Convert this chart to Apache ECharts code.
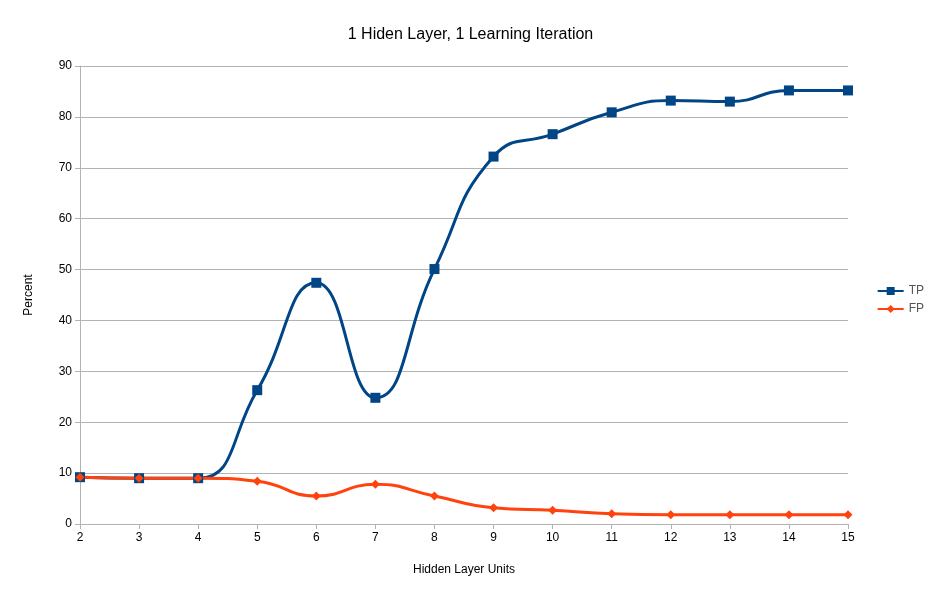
<!DOCTYPE html>
<html><head><meta charset="utf-8">
<script src="https://cdn.jsdelivr.net/npm/echarts@6/dist/echarts.min.js"></script>
<style>html,body{margin:0;background:#fff}#chart{width:941px;height:597px}</style>
</head><body><div id="chart"></div>
<script>
const units = ['2','3','4','5','6','7','8','9','10','11','12','13','14','15'];
const tp = [9.2, 9, 9, 26.3, 47.4, 24.8, 50.1, 72.2, 76.6, 80.9, 83.2, 83, 85.2, 85.2];
const fp = [9.2, 9, 9, 8.4, 5.5, 7.8, 5.5, 3.2, 2.7, 2, 1.8, 1.8, 1.8, 1.8];

const myChart = echarts.init(document.getElementById('chart'));
myChart.setOption({
  animation: false,
  textStyle: { fontFamily: 'Liberation Sans', color: '#000' },
  title: { text: '1 Hiden Layer, 1 Learning Iteration', left: 'center', top: 22,
    textStyle: { fontSize: 16, fontWeight: 'normal', color: '#000' } },
  grid: { left: 80, right: 93, top: 66, bottom: 73 },
  legend: { orient: 'vertical', right: 12, top: 280, itemGap: 6, itemWidth: 26, itemHeight: 10,
    textStyle: { fontSize: 12 }, data: ['TP', 'FP'] },
  xAxis: { type: 'category', data: units, boundaryGap: false,
    name: 'Hidden Layer Units', nameLocation: 'middle', nameGap: 40, nameTextStyle: { fontSize: 12 },
    axisLine: { lineStyle: { color: '#b3b3b3' } }, axisTick: { show: true, lineStyle: { color: '#b3b3b3' } },
    axisLabel: { color: '#000', fontSize: 12 },
    splitLine: { show: false } },
  yAxis: { type: 'value', min: 0, max: 90, interval: 10,
    name: 'Percent', nameLocation: 'middle', nameGap: 45, nameTextStyle: { fontSize: 12 },
    axisLine: { show: true, lineStyle: { color: '#b3b3b3' } }, axisTick: { show: true, lineStyle: { color: '#b3b3b3' } },
    axisLabel: { color: '#000', fontSize: 12 },
    splitLine: { lineStyle: { color: '#b3b3b3' } } },
  series: [
    { name: 'TP', type: 'line', data: tp, smooth: 0.5, symbol: 'rect', symbolSize: 10,
      lineStyle: { width: 3, color: '#004586' }, itemStyle: { color: '#004586' } },
    { name: 'FP', type: 'line', data: fp, smooth: 0.5, symbol: 'diamond', symbolSize: 9,
      lineStyle: { width: 3, color: '#ff420e' }, itemStyle: { color: '#ff420e' } }
  ]
});
</script></body></html>
